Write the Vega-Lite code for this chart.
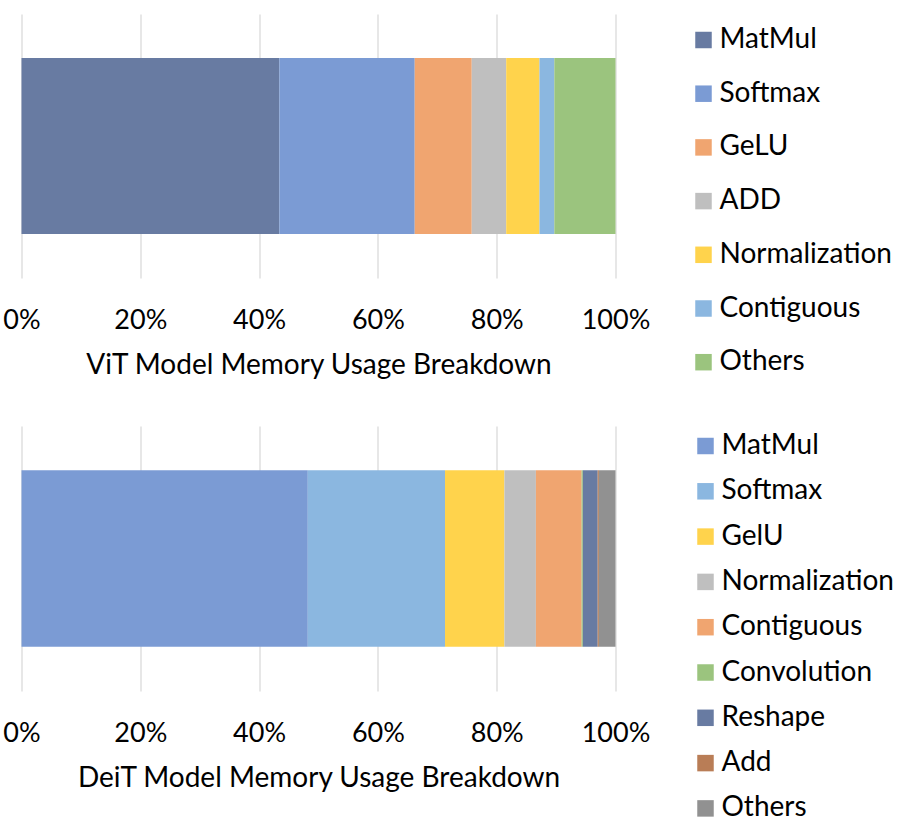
{
  "$schema": "https://vega.github.io/schema/vega-lite/v6.json",
  "padding": {"left": 2.5, "top": 14, "right": 0, "bottom": 0},
  "background": "white",
  "config": {
    "view": {"stroke": null},
    "font": "Lato",
    "axis": {
      "domain": false,
      "ticks": false,
      "tickSize": 0,
      "labelPadding": 50,
      "labelBaseline": "alphabetic",
      "labelFontSize": 27,
      "labelColor": "#000000",
      "labelFlush": false,
      "labelOverlap": false,
      "titleFontSize": 28,
      "titleFontWeight": "normal",
      "titleColor": "#000000",
      "titleBaseline": "alphabetic",
      "titleY": 95,
      "gridColor": "#000000",
      "gridOpacity": 0.13,
      "gridWidth": 1.5,
      "zindex": 1
    },
    "legend": {
      "orient": "none",
      "title": null,
      "padding": 0,
      "symbolType": "square",
      "symbolSize": 272,
      "symbolStrokeWidth": 0,
      "labelFontSize": 28,
      "labelColor": "#000000",
      "labelOffset": 2,
      "labelLimit": 400
    }
  },
  "datasets": {
    "vit": [
      {"model": "ViT", "op": "MatMul", "pct": 0.434, "idx": 1},
      {"model": "ViT", "op": "Softmax", "pct": 0.228, "idx": 2},
      {"model": "ViT", "op": "GeLU", "pct": 0.096, "idx": 3},
      {"model": "ViT", "op": "ADD", "pct": 0.058, "idx": 4},
      {"model": "ViT", "op": "Normalization", "pct": 0.056, "idx": 5},
      {"model": "ViT", "op": "Contiguous", "pct": 0.025, "idx": 6},
      {"model": "ViT", "op": "Others", "pct": 0.103, "idx": 7}
    ],
    "deit": [
      {"model": "DeiT", "op": "MatMul", "pct": 0.482, "idx": 1},
      {"model": "DeiT", "op": "Softmax", "pct": 0.231, "idx": 2},
      {"model": "DeiT", "op": "GelU", "pct": 0.100, "idx": 3},
      {"model": "DeiT", "op": "Normalization", "pct": 0.053, "idx": 4},
      {"model": "DeiT", "op": "Contiguous", "pct": 0.077, "idx": 5},
      {"model": "DeiT", "op": "Convolution", "pct": 0.002, "idx": 6},
      {"model": "DeiT", "op": "Reshape", "pct": 0.025, "idx": 7},
      {"model": "DeiT", "op": "Add", "pct": 0.002, "idx": 8},
      {"model": "DeiT", "op": "Others", "pct": 0.028, "idx": 9}
    ]
  },
  "bounds": "flush",
  "spacing": 148,
  "resolve": {"scale": {"color": "independent"}, "legend": {"color": "independent"}},
  "vconcat": [
    {
      "width": 594,
      "height": 264,
      "data": {"name": "vit"},
      "mark": {"type": "bar"},
      "encoding": {
        "x": {
          "field": "pct", "type": "quantitative", "stack": "zero",
          "scale": {"domain": [0, 1], "nice": false},
          "axis": {"values": [0, 0.2, 0.4, 0.6, 0.8, 1], "format": ".0%", "title": "ViT Model Memory Usage Breakdown", "grid": true}
        },
        "y": {"field": "model", "type": "nominal", "axis": null, "scale": {"paddingInner": 0, "paddingOuter": 0.25}},
        "color": {
          "field": "op", "type": "nominal",
          "scale": {
            "domain": ["MatMul", "Softmax", "GeLU", "ADD", "Normalization", "Contiguous", "Others"],
            "range": ["#687BA2", "#7B9BD4", "#F0A570", "#BFBFBF", "#FFD34C", "#8BB7E0", "#9BC47E"]
          },
          "legend": {"legendX": 668, "legendY": 12, "rowPadding": 25.7}
        },
        "order": {"field": "idx", "type": "quantitative"}
      }
    },
    {
      "width": 594,
      "height": 265,
      "data": {"name": "deit"},
      "mark": {"type": "bar"},
      "encoding": {
        "x": {
          "field": "pct", "type": "quantitative", "stack": "zero",
          "scale": {"domain": [0, 1], "nice": false},
          "axis": {"values": [0, 0.2, 0.4, 0.6, 0.8, 1], "format": ".0%", "title": "DeiT Model Memory Usage Breakdown", "grid": true}
        },
        "y": {"field": "model", "type": "nominal", "axis": null, "scale": {"paddingInner": 0, "paddingOuter": 0.25}},
        "color": {
          "field": "op", "type": "nominal",
          "scale": {
            "domain": ["MatMul", "Softmax", "GelU", "Normalization", "Contiguous", "Convolution", "Reshape", "Add", "Others"],
            "range": ["#7B9BD4", "#8BB7E0", "#FFD34C", "#BFBFBF", "#F0A570", "#9BC47E", "#687BA2", "#B97D56", "#919191"]
          },
          "legend": {"legendX": 670, "legendY": 6, "rowPadding": 17.3}
        },
        "order": {"field": "idx", "type": "quantitative"}
      }
    }
  ]
}
